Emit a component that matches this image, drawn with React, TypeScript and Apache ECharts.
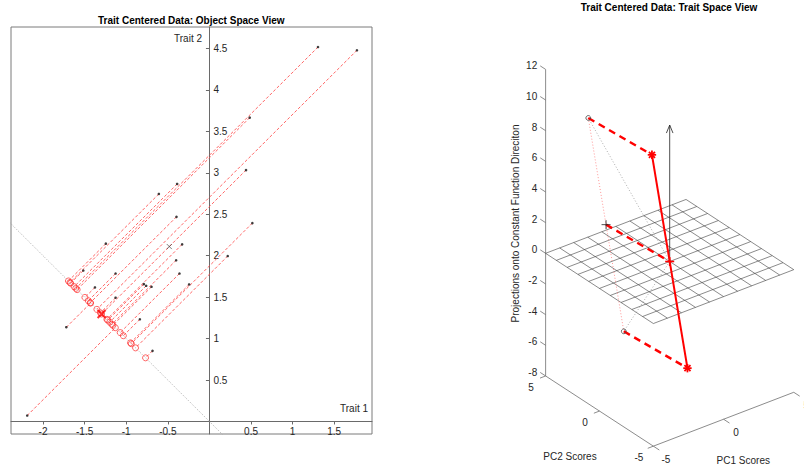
import React, { useEffect, useRef } from 'react';
import * as echarts from 'echarts';

// ---------------- Object space data (25 objects, two traits) ----------------
const trait1 = [1.305, 1.773, 0.484, 0.44, -0.388, -0.608, -0.396, 0.516, -1.245, -0.328, 0.22, -0.4, -1.516, -1.128, -0.36, -0.788, -0.76, -0.696, -0.244, -1.376, -1.128, -0.836, -1.72, -0.684, -2.19];
const trait2 = [4.517, 4.478, 3.665, 3.033, 2.865, 2.745, 2.469, 2.393, 2.145, 2.137, 1.996, 1.945, 1.821, 1.785, 1.785, 1.657, 1.637, 1.625, 1.653, 1.617, 1.493, 1.233, 1.137, 0.852, 0.072];
const xTicks = [-2, -1.5, -1, -0.5, 0.5, 1, 1.5];
const yTicks = [0.5, 1, 1.5, 2, 2.5, 3, 3.5, 4, 4.5];

// ---------------- Trait space data (two traits as points) ----------------
const pc1Scores = [-4.9, -4.32];
const pc2Scores = [1.17, -1.37];
const constProj = [10.55, -2.41];
const arrowLength = [8.9];
const planeLines = [-5, -4, -3, -2, -1, 0, 1, 2, 3, 4, 5];
const pc1Ticks = [-5, 0, 5];
const pc2Ticks = [-5, 0, 5];
const zTicks = [-8, -6, -4, -2, 0, 2, 4, 6, 8, 10, 12];

const FONT = '"Liberation Sans", Arial, Helvetica, sans-serif';
const TXT = '#262626';

// left panel layout / ranges
const G1 = { left: 11, top: 27, width: 361, height: 407 };
const X1MIN = -2.385, X1MAX = 1.954, Y1MIN = -0.151, Y1MAX = 4.759;
const zeroX = G1.left + (G1.width * (0 - X1MIN)) / (X1MAX - X1MIN);
const zeroY = G1.top + (G1.height * (Y1MAX - 0)) / (Y1MAX - Y1MIN);
// right panel screen-space ranges (orthographic projection units)
const X2MIN = -9.588, X2MAX = 7.588, Y2MIN = -11.78, Y2MAX = 13.079;

const AZ = (-37.5 * Math.PI) / 180;
const EL = (30 * Math.PI) / 180;
function proj(x: number, y: number, z: number): [number, number] {
  return [
    Math.cos(AZ) * x + Math.sin(AZ) * y,
    -Math.sin(AZ) * Math.sin(EL) * x + Math.cos(AZ) * Math.sin(EL) * y + Math.cos(EL) * z,
  ];
}

// derived quantities
const n = trait1.length;
const meanT1 = trait1.reduce((a, b) => a + b, 0) / n;
const meanT2 = trait2.reduce((a, b) => a + b, 0) / n;
const projPts = trait1.map((x, i) => [(x - trait2[i]) / 2, (trait2[i] - x) / 2]);
const meanProj = [(meanT1 - meanT2) / 2, (meanT2 - meanT1) / 2];

const C = pc1Scores.map((v, i) => [v, pc2Scores[i], constProj[i]]);
const M = [0, 1, 2].map((k) => (C[0][k] + C[1][k]) / 2);
const A = C.map((c) => c.map((v, k) => v - M[k]));
const O = [0, 0, 0];

function segSeries(data: number[][], style: any, z: number) {
  return {
    type: 'custom',
    xAxisIndex: 1,
    yAxisIndex: 1,
    silent: true,
    z,
    clip: false,
    dimensions: ['x1', 'y1', 'z1', 'x2', 'y2', 'z2'],
    encode: { x: 0, y: 1 },
    data,
    renderItem: (_p: any, api: any) => {
      const a = api.coord(proj(api.value(0), api.value(1), api.value(2)));
      const b = api.coord(proj(api.value(3), api.value(4), api.value(5)));
      return { type: 'line', shape: { x1: a[0], y1: a[1], x2: b[0], y2: b[1] }, style: { fill: 'none', ...style } };
    },
  };
}

function markerSeries(data: number[][], kind: string, color: string, size: number, width: number, z: number) {
  return {
    type: 'custom',
    xAxisIndex: 1,
    yAxisIndex: 1,
    silent: true,
    z,
    clip: false,
    dimensions: ['x', 'y', 'z'],
    encode: { x: 0, y: 1 },
    data,
    renderItem: (_p: any, api: any) => {
      const c = api.coord(proj(api.value(0), api.value(1), api.value(2)));
      const st = { stroke: color, lineWidth: width, fill: 'none' };
      const L = (dx1: number, dy1: number, dx2: number, dy2: number) => ({
        type: 'line',
        shape: { x1: c[0] + dx1, y1: c[1] + dy1, x2: c[0] + dx2, y2: c[1] + dy2 },
        style: st,
      });
      if (kind === 'circle') return { type: 'circle', shape: { cx: c[0], cy: c[1], r: size }, style: st };
      const d = size * 0.72;
      const children: any[] = [L(-size, 0, size, 0), L(0, -size, 0, size)];
      if (kind === 'star') children.push(L(-d, -d, d, d), L(-d, d, d, -d));
      return { type: 'group', children };
    },
  };
}

function tickSeries(values: number[], make: (v: number, api: any) => any[]) {
  return {
    type: 'custom',
    xAxisIndex: 1,
    yAxisIndex: 1,
    silent: true,
    clip: false,
    z: 1,
    dimensions: ['v', 'w'],
    encode: { x: 0, y: 1 },
    data: values.map((v) => [v, 0]),
    renderItem: (_p: any, api: any) => ({ type: 'group', children: make(api.value(0), api) }),
  };
}

const txtStyle = (t: string, align: string) => ({
  text: t,
  fill: TXT,
  fontSize: 10,
  fontFamily: FONT,
  align,
  verticalAlign: 'middle',
  textAlign: align,
  textVerticalAlign: 'middle',
});

function buildOption() {
  const series: any[] = [];
  const axisGray = '#6a6a6a';

  // ---------- left panel ----------
  series.push({
    type: 'line',
    xAxisIndex: 0,
    yAxisIndex: 0,
    data: [X1MIN - 1, X1MAX + 1].map((x) => [x, -x]),
    symbol: 'none',
    silent: true,
    clip: true,
    lineStyle: { color: '#9a9a9a', width: 0.8, type: [1, 1.5] },
    z: 2,
  });
  series.push({
    type: 'lines',
    coordinateSystem: 'cartesian2d',
    xAxisIndex: 0,
    yAxisIndex: 0,
    silent: true,
    data: trait1.map((x, i) => ({ coords: [[x, trait2[i]], projPts[i]] })),
    lineStyle: { color: '#ff4a4a', width: 1, type: [3, 2], opacity: 0.85 },
    z: 3,
  });
  series.push({
    type: 'scatter',
    xAxisIndex: 0,
    yAxisIndex: 0,
    silent: true,
    data: projPts,
    symbol: 'circle',
    symbolSize: 6,
    itemStyle: { color: 'rgba(0,0,0,0)', borderColor: '#ff2a2a', borderWidth: 0.9 },
    z: 4,
  });
  series.push({
    type: 'scatter',
    xAxisIndex: 0,
    yAxisIndex: 0,
    silent: true,
    data: trait1.map((x, i) => [x, trait2[i]]),
    symbol: 'circle',
    symbolSize: 2.6,
    itemStyle: { color: '#111' },
    z: 5,
  });
  series.push({
    type: 'scatter',
    xAxisIndex: 0,
    yAxisIndex: 0,
    silent: true,
    data: [[meanT1, meanT2]],
    symbol: 'path://M0 0L10 10M10 0L0 10',
    symbolSize: 5,
    itemStyle: { color: 'none', borderColor: '#333', borderWidth: 0.8 },
    z: 6,
  });
  series.push({
    type: 'scatter',
    xAxisIndex: 0,
    yAxisIndex: 0,
    silent: true,
    data: [meanProj],
    symbol: 'path://M0 0L10 10M10 0L0 10',
    symbolSize: 8,
    itemStyle: { color: 'none', borderColor: '#ff0000', borderWidth: 2 },
    z: 6,
  });

  // ---------- right panel ----------
  const zLo = zTicks[0], zHi = zTicks[zTicks.length - 1];
  const pLo = pc1Ticks[0], pHi = pc1Ticks[pc1Ticks.length - 1];
  const qLo = pc2Ticks[0], qHi = pc2Ticks[pc2Ticks.length - 1];
  const axStroke = { stroke: '#6e6e6e', lineWidth: 0.8 };

  // plane grid
  series.push({
    type: 'custom',
    xAxisIndex: 1,
    yAxisIndex: 1,
    silent: true,
    clip: false,
    z: 2,
    dimensions: ['v', 'w'],
    encode: { x: 0, y: 1 },
    data: planeLines.map((v) => [v, 0]),
    renderItem: (_p: any, api: any) => {
      const v = api.value(0);
      const lo = planeLines[0], hi = planeLines[planeLines.length - 1];
      const st = { stroke: '#3c3c3c', lineWidth: 0.6, fill: 'none' };
      const a = api.coord(proj(v, lo, 0)), b = api.coord(proj(v, hi, 0));
      const c = api.coord(proj(lo, v, 0)), d = api.coord(proj(hi, v, 0));
      return {
        type: 'group',
        children: [
          { type: 'line', shape: { x1: a[0], y1: a[1], x2: b[0], y2: b[1] }, style: st },
          { type: 'line', shape: { x1: c[0], y1: c[1], x2: d[0], y2: d[1] }, style: st },
        ],
      };
    },
  });

  // box axes lines
  series.push(
    segSeries(
      [
        [pLo, qHi, zLo, pLo, qHi, zHi],
        [pLo, qLo, zLo, pLo, qHi, zLo],
        [pLo, qLo, zLo, pHi, qLo, zLo],
      ],
      axStroke,
      1
    )
  );

  // z ticks & labels
  series.push(
    tickSeries(zTicks, (v, api) => {
      const a = api.coord(proj(pLo, qHi, v)), b = api.coord(proj(pLo, qHi + 0.5, v));
      return [
        { type: 'line', shape: { x1: a[0], y1: a[1], x2: b[0], y2: b[1] }, style: axStroke },
        { type: 'text', x: b[0] - 3, y: b[1], style: txtStyle(String(v), 'right') },
      ];
    })
  );
  // PC2 ticks
  series.push(
    tickSeries(pc2Ticks, (v, api) => {
      const a = api.coord(proj(pLo, v, zLo)), b = api.coord(proj(pLo - 0.4, v, zLo));
      return [
        { type: 'line', shape: { x1: a[0], y1: a[1], x2: b[0], y2: b[1] }, style: axStroke },
        { type: 'text', x: a[0] - 14.5, y: a[1] + 11.2, style: txtStyle(String(v), 'center') },
      ];
    })
  );
  // PC1 ticks
  series.push(
    tickSeries(pc1Ticks, (v, api) => {
      const a = api.coord(proj(v, qLo, zLo)), b = api.coord(proj(v, qLo - 0.55, zLo));
      return [
        { type: 'line', shape: { x1: a[0], y1: a[1], x2: b[0], y2: b[1] }, style: axStroke },
        { type: 'text', x: a[0] + 12.5, y: a[1] + 13, style: txtStyle(String(v), 'center') },
      ];
    })
  );
  // axis titles (3D)
  series.push(
    tickSeries([0], (_v, api) => {
      const m2 = api.coord(proj(pLo, (qLo + qHi) / 2, zLo));
      const m1 = api.coord(proj((pLo + pHi) / 2, qLo, zLo));
      return [
        { type: 'text', x: m2[0] - 29.5, y: m2[1] + 45.6, style: txtStyle('PC2 Scores', 'center') },
        { type: 'text', x: m1[0] + 19.7, y: m1[1] + 41.5, style: txtStyle('PC1 Scores', 'center') },
      ];
    })
  );

  // dotted connectors
  series.push(segSeries([[...O, ...C[0]], [...O, ...C[1]]], { stroke: '#8a8a8a', lineWidth: 0.7, lineDash: [1, 2] }, 3));
  series.push(segSeries([[...C[0], ...C[1]]], { stroke: '#ff6a6a', lineWidth: 0.7, lineDash: [1, 2] }, 3));
  // arrow
  series.push(segSeries([[...O, 0, 0, arrowLength[0]]], { stroke: '#222', lineWidth: 0.8 }, 4));
  series.push({
    type: 'custom',
    xAxisIndex: 1,
    yAxisIndex: 1,
    silent: true,
    clip: false,
    z: 4,
    dimensions: ['x', 'y', 'z'],
    encode: { x: 0, y: 1 },
    data: [[0, 0, arrowLength[0]]],
    renderItem: (_p: any, api: any) => {
      const t = api.coord(proj(api.value(0), api.value(1), api.value(2)));
      return {
        type: 'polyline',
        shape: { points: [[t[0] - 3.3, t[1] + 8], [t[0], t[1]], [t[0] + 3.3, t[1] + 8]] },
        style: { stroke: '#222', lineWidth: 0.8, fill: 'none' },
      };
    },
  });
  // thick red dashed lines
  series.push(
    segSeries(
      [[...C[0], ...A[0]], [...C[1], ...A[1]], [...M, ...O]],
      { stroke: '#ff0000', lineWidth: 2.4, lineDash: [7, 5] },
      5
    )
  );
  // solid red line
  series.push(segSeries([[...A[0], ...A[1]]], { stroke: '#ff0000', lineWidth: 2 }, 5));
  // markers
  series.push(markerSeries(C, 'circle', '#444', 2.4, 0.8, 6));
  series.push(markerSeries([M], 'plus', '#222', 4.5, 0.8, 6));
  series.push(markerSeries([O], 'plus', '#ff0000', 4.5, 1.6, 6));
  series.push(markerSeries(A, 'star', '#ff0000', 4.2, 1.8, 6));

  return {
    animation: false,
    backgroundColor: '#ffffff',
    grid: [
      { ...G1, show: true, borderColor: '#7a7a7a', borderWidth: 1, backgroundColor: 'transparent' },
      { left: 500, top: 30, width: 304, height: 440, show: false },
    ],
    xAxis: [
      {
        type: 'value',
        gridIndex: 0,
        position: 'bottom',
        min: X1MIN,
        max: X1MAX,
        offset: zeroY - (G1.top + G1.height),
        axisLine: { show: true, onZero: false, lineStyle: { color: axisGray, width: 1 } },
        axisTick: { show: true, inside: false, length: 3, customValues: xTicks, lineStyle: { color: axisGray } },
        axisLabel: { show: true, customValues: xTicks, margin: 5, color: TXT, fontSize: 10, fontFamily: FONT, formatter: (v: number) => String(v) },
        splitLine: { show: false },
      },
      { type: 'value', gridIndex: 1, min: X2MIN, max: X2MAX, show: false },
    ],
    yAxis: [
      {
        type: 'value',
        gridIndex: 0,
        position: 'left',
        min: Y1MIN,
        max: Y1MAX,
        offset: G1.left - zeroX,
        axisLine: { show: true, onZero: false, lineStyle: { color: axisGray, width: 1 } },
        axisTick: { show: true, inside: false, length: 3.5, customValues: yTicks, lineStyle: { color: axisGray } },
        axisLabel: { show: true, inside: true, customValues: yTicks, margin: 4, color: TXT, fontSize: 10, fontFamily: FONT, formatter: (v: number) => String(v) },
        splitLine: { show: false },
      },
      { type: 'value', gridIndex: 1, min: Y2MIN, max: Y2MAX, show: false },
    ],
    graphic: [
      {
        type: 'text',
        x: 191.3,
        y: 20.7,
        style: { ...txtStyle('Trait Centered Data: Object Space View', 'center'), fill: '#000', fontWeight: 'bold' },
      },
      {
        type: 'text',
        x: 669,
        y: 7.3,
        style: { ...txtStyle('Trait Centered Data: Trait Space View', 'center'), fill: '#000', fontWeight: 'bold' },
      },
      { type: 'text', x: 202, y: 38.7, style: txtStyle('Trait 2', 'right') },
      { type: 'text', x: 368, y: 408.3, style: txtStyle('Trait 1', 'right') },
      {
        type: 'text',
        x: 515,
        y: 223.5,
        rotation: Math.PI / 2,
        style: txtStyle('Projections onto Constant Function Direciton', 'center'),
      },
    ],
    series,
  };
}

export default function App() {
  const ref = useRef<HTMLDivElement>(null);
  useEffect(() => {
    if (!ref.current) return;
    const chart = echarts.init(ref.current, null, { renderer: 'svg' });
    chart.setOption(buildOption() as any);
    return () => chart.dispose();
  }, []);
  return <div ref={ref} style={{ position: 'absolute', left: 0, top: 0, width: 804, height: 470, background: '#fff' }} />;
}
